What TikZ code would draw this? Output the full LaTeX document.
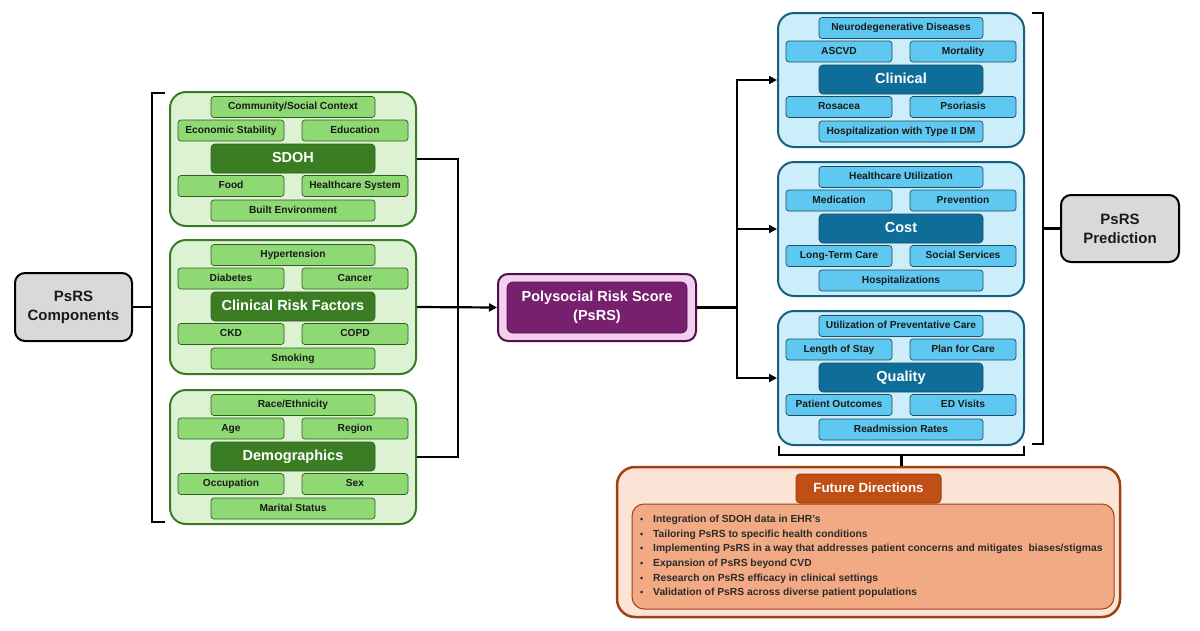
\documentclass[tikz,border=0pt]{standalone}
\usepackage{fontspec}
\setmainfont{Liberation Sans}
\usetikzlibrary{arrows.meta}
\definecolor{gOut}{HTML}{DDF2D3}
\definecolor{gLine}{HTML}{3A7A24}
\definecolor{gItem}{HTML}{8ED973}
\definecolor{gItemLine}{HTML}{2F5F1F}
\definecolor{gHead}{HTML}{3A7D22}
\definecolor{bOut}{HTML}{CCEDFA}
\definecolor{bLine}{HTML}{155F7E}
\definecolor{bItem}{HTML}{5FC8F0}
\definecolor{bItemLine}{HTML}{1A4E66}
\definecolor{bHead}{HTML}{0F6E99}
\definecolor{pOut}{HTML}{F2CFEE}
\definecolor{pLine}{HTML}{4F1046}
\definecolor{pIn}{HTML}{77206D}
\definecolor{grayBox}{HTML}{D9D9D9}
\definecolor{fdOut}{HTML}{FBE3D6}
\definecolor{fdLine}{HTML}{9E4210}
\definecolor{fdHead}{HTML}{C04F15}
\definecolor{fdIn}{HTML}{F2AA84}
\definecolor{txt}{HTML}{1A1A1A}
\definecolor{fdTxt}{HTML}{2B2B2B}
\newcommand\panelframe[4]{%
  \node[outer, panelout] (#1) at (#2+123, #3+67) {};
  \node[head, panelhead] (#1-h) at (#2+123, #3+66.5) {#4};
}
\newcommand\panelitems[9]{%
  \node[wide, panelitem] (#1-1) at (#2+123, #3+15) {#4};
  \node[half, panelitem] (#1-2) at (#2+61, #3+38.5) {#5};
  \node[half, panelitem] (#1-3) at (#2+185, #3+38.5) {#6};
  \node[half, panelitem] (#1-4) at (#2+61, #3+94) {#7};
  \node[half, panelitem] (#1-5) at (#2+185, #3+94) {#8};
  \node[wide, panelitem] (#1-6) at (#2+123, #3+118.5) {#9};
}
\newcommand\fdbullet{\makebox[13pt][l]{\fontsize{9}{9}\selectfont•}}
\begin{document}
\begin{tikzpicture}[x=1pt,y=-1pt,
  box/.style={draw, rounded corners=3pt, inner sep=0pt, align=center, text=txt,
    font=\bfseries\fontsize{10.2}{12}\selectfont},
  item/.style={box, minimum height=21pt, line width=0.7pt, text height=7.4pt, text depth=2pt},
  wide/.style={item, minimum width=164pt},
  half/.style={item, minimum width=106pt},
  head/.style={box, minimum width=164pt, minimum height=29pt, rounded corners=4pt,
    line width=0.7pt, text=white, text height=10.6pt, text depth=3pt,
    font=\bfseries\fontsize{14.5}{16}\selectfont},
  outer/.style={draw, rounded corners=16pt, minimum width=246pt, minimum height=134pt,
    line width=2pt, inner sep=0pt},
  green/.style={panelout/.style={fill=gOut, draw=gLine},
    panelitem/.style={fill=gItem, draw=gItemLine},
    panelhead/.style={fill=gHead, draw=gItemLine}},
  blue/.style={panelout/.style={fill=bOut, draw=bLine},
    panelitem/.style={fill=bItem, draw=bItemLine},
    panelhead/.style={fill=bHead, draw=bItemLine}},
  graybox/.style={draw=black, fill=grayBox, line width=2pt, rounded corners=10pt,
    align=center, text=txt, inner sep=0pt,
    font=\bfseries\fontsize{15}{19}\selectfont},
  conn/.style={draw=black, line width=2.2pt},
  arrow/.style={conn, -{Triangle[length=8pt,width=8pt]}}
]
\useasboundingbox (0,0) rectangle (1200,630);

% left side label
\node[graybox, minimum width=117pt, minimum height=68pt] (comp) at (73.5,307) {PsRS\\Components};

% green panels
\begin{scope}[green]
\panelframe{g1}{170}{92}{SDOH}
\panelitems{g1}{170}{92}{Community/Social Context}{Economic Stability}{Education}{Food}{Healthcare System}{Built Environment}
\panelframe{g2}{170}{240}{Clinical Risk Factors}
\panelitems{g2}{170}{240}{Hypertension}{Diabetes}{Cancer}{CKD}{COPD}{Smoking}
\panelframe{g3}{170}{390}{Demographics}
\panelitems{g3}{170}{390}{Race/Ethnicity}{Age}{Region}{Occupation}{Sex}{Marital Status}
\end{scope}

% blue panels
\begin{scope}[blue]
\panelframe{b1}{778}{13}{Clinical}
\panelitems{b1}{778}{13}{Neurodegenerative Diseases}{ASCVD}{Mortality}{Rosacea}{Psoriasis}{Hospitalization with Type II DM}
\panelframe{b2}{778}{162}{Cost}
\panelitems{b2}{778}{162}{Healthcare Utilization}{Medication}{Prevention}{Long-Term Care}{Social Services}{Hospitalizations}
\panelframe{b3}{778}{311}{Quality}
\panelitems{b3}{778}{311}{Utilization of Preventative Care}{Length of Stay}{Plan for Care}{Patient Outcomes}{ED Visits}{Readmission Rates}
\end{scope}

% central PsRS
\node[draw=pLine, fill=pOut, line width=2pt, rounded corners=10pt, minimum width=198pt,
  minimum height=67pt, inner sep=0pt] (psrs) at (597,307.5) {};
\node[draw=pLine, fill=pIn, line width=0.7pt, rounded corners=6pt, minimum width=180pt,
  minimum height=51pt, inner sep=0pt, align=center, text=white,
  font=\bfseries\fontsize{14.5}{19}\selectfont] (psrs-in) at (597,307.5) {Polysocial Risk Score\\(PsRS)};

% right label
\node[graybox, minimum width=118pt, minimum height=67pt] (pred) at (1120,228.5) {PsRS\\Prediction};

% future directions
\node[draw=fdLine, fill=fdOut, line width=2.5pt, rounded corners=18pt, minimum width=503pt,
  minimum height=150pt, inner sep=0pt] (fd) at (868.5,542) {};
\node[draw=fdLine, fill=fdIn, line width=1pt, rounded corners=12pt, minimum width=482pt,
  minimum height=105pt, inner sep=0pt] (fd-in) at (873,556.5) {};
\node[draw=fdLine, fill=fdHead, line width=1pt, rounded corners=4pt, minimum width=145pt,
  minimum height=29pt, inner sep=0pt, text=white, text height=9.8pt, text depth=2.6pt,
  font=\bfseries\fontsize{13.3}{15}\selectfont] (fd-h) at (868.5,488.5) {Future Directions};
\node[anchor=west, align=left, inner sep=0pt, text=fdTxt,
  font=\bfseries\fontsize{10.3}{14.6}\selectfont] (fd-list) at (640,556.5) {%
  \fdbullet Integration of SDOH data in EHR’s\\
  \fdbullet Tailoring PsRS to specific health conditions\\
  \fdbullet Implementing PsRS in a way that addresses patient concerns and mitigates\ \ biases/stigmas\\
  \fdbullet Expansion of PsRS beyond CVD\\
  \fdbullet Research on PsRS efficacy in clinical settings\\
  \fdbullet Validation of PsRS across diverse patient populations};

% left bracket
\coordinate (lbt) at (165,93);
\coordinate (lbb) at (165,522);
\coordinate (lbx) at (152,307);
\draw[conn] (lbt) -- ++(-13,0) |- (lbb);
\draw[conn] (comp.east) -- (lbx);

% left connectors into PsRS
\coordinate (jl) at (458,307);
\draw[conn] (g1.east) -| (jl) |- (g3.east);
\draw[arrow] (g2.east) -- (psrs.west);

% right connectors
\coordinate (jr) at (737,307.5);
\draw[conn] (psrs.east) -- (jr);
\draw[arrow] (jr) |- (b1.west);
\draw[arrow] (jr) |- (b2.west);
\draw[arrow] (jr) |- (b3.west);

% right bracket
\coordinate (rbt) at (1032,13);
\coordinate (rbb) at (1032,444);
\coordinate (rbx) at (1043,228.5);
\draw[conn] (rbt) -- ++(11,0) |- (rbb);
\draw[conn] (rbx) -- (pred.west);

% bottom bracket
\coordinate (bbl) at (779,446);
\coordinate (bbr) at (1024,446);
\coordinate (bbm) at (901.5,455);
\draw[conn] (bbl) -- ++(0,9) -| (bbr);
\draw[conn] (bbm) -- (bbm |- fd.north);
\end{tikzpicture}
\end{document}
